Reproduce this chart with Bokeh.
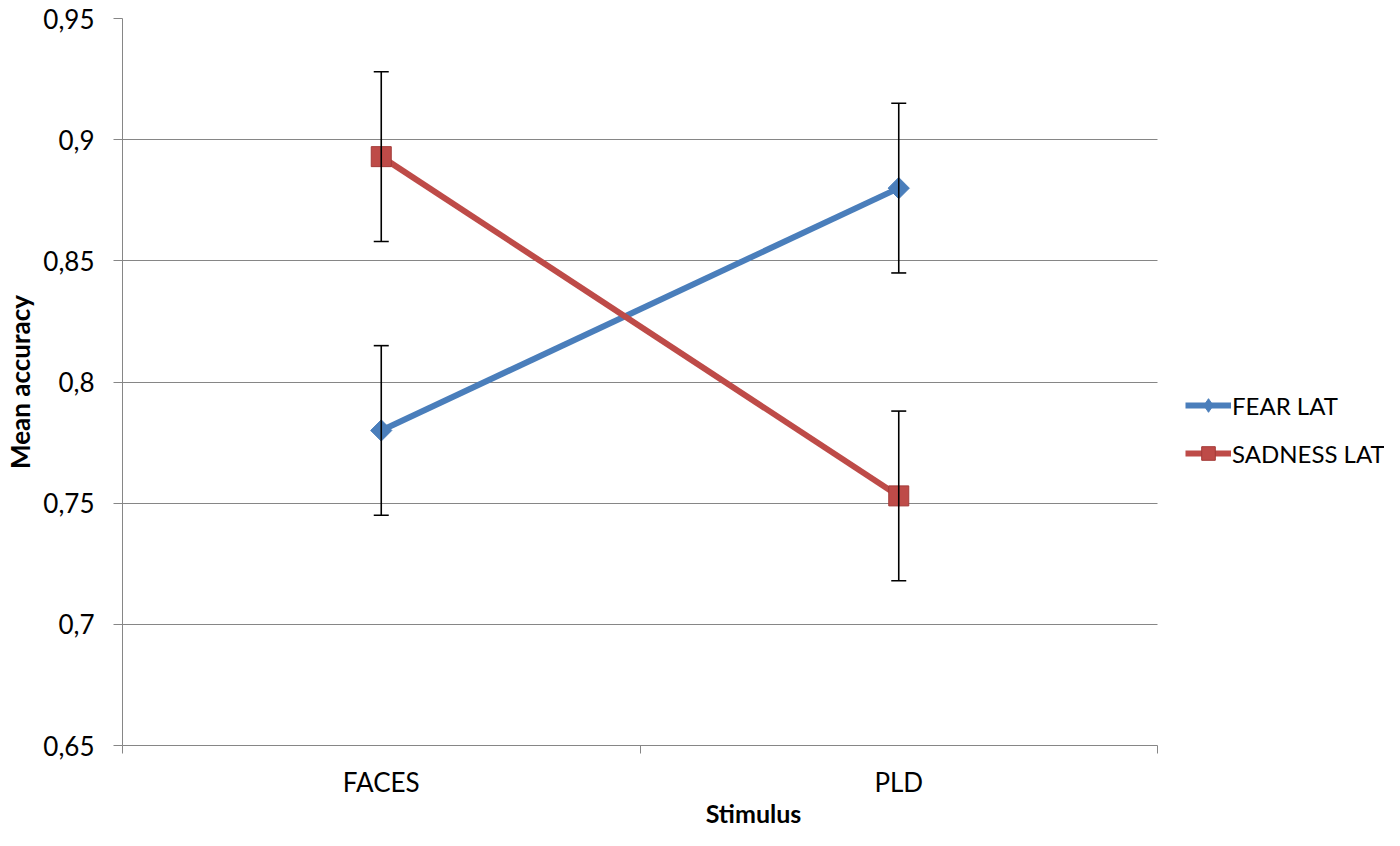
from bokeh.plotting import figure
from bokeh.models import (Range1d, FixedTicker, Whisker, TeeHead, ColumnDataSource,
                          Legend, LegendItem)
from bokeh.embed import file_html
from bokeh.resources import INLINE

categories = ["FACES", "PLD"]
fear_lat = [0.780, 0.880]
fear_err = [0.035, 0.035]
sadness_lat = [0.893, 0.753]
sadness_err = [0.035, 0.035]
y_ticks = [0.65, 0.70, 0.75, 0.80, 0.85, 0.90, 0.95]

FONT = "Lato"
GRAY = "#868686"
BLUE = "#4a7ebb"
RED = "#be4b48"

# layout (pixels)
LEFT, TOP, BOTTOM = 122, 18, 85
PLOT_W = 1035          # width of the category area
FRAME_W = 1262         # frame incl. room for the legend on the right
FRAME_H = 727

n = len(categories)
xpos = [i + 0.5 for i in range(n)]
x_end = n * FRAME_W / PLOT_W

p = figure(frame_width=FRAME_W, frame_height=FRAME_H, output_backend="svg", toolbar_location=None,
           x_range=Range1d(0, x_end), y_range=Range1d(y_ticks[0], y_ticks[-1]),
           min_border_left=LEFT, min_border_right=0, min_border_top=TOP, min_border_bottom=BOTTOM)
p.outline_line_color = None
p.background_fill_color = "white"
p.border_fill_color = "white"

# grids
p.xgrid.grid_line_color = None
p.ygrid.grid_line_color = GRAY
p.ygrid.grid_line_width = 1
p.ygrid.ticker = FixedTicker(ticks=y_ticks)
p.ygrid.cross_bounds = (0, n)

# y axis
p.yaxis.ticker = FixedTicker(ticks=y_ticks, minor_ticks=[])
p.yaxis.major_label_overrides = {t: ("%g" % t).replace(".", ",") for t in y_ticks}
p.yaxis.axis_line_color = GRAY
p.yaxis.major_tick_line_color = GRAY
p.yaxis.major_tick_out = 9
p.yaxis.major_tick_in = 0
p.yaxis.minor_tick_line_color = None
p.yaxis.major_label_standoff = 19
p.yaxis.major_label_text_font = FONT
p.yaxis.major_label_text_font_size = "26px"
p.yaxis.major_label_text_color = "black"
p.yaxis.axis_label = "Mean accuracy"
p.yaxis.axis_label_text_font = FONT
p.yaxis.axis_label_text_font_size = "26px"
p.yaxis.axis_label_text_font_style = "bold"
p.yaxis.axis_label_text_color = "black"
p.yaxis.axis_label_standoff = 4

# x axis
p.xaxis.bounds = (0, n)
p.xaxis.ticker = FixedTicker(ticks=xpos, minor_ticks=list(range(n + 1)))
p.xaxis.major_label_overrides = {x: c for x, c in zip(xpos, categories)}
p.xaxis.axis_line_color = GRAY
p.xaxis.major_tick_line_color = None
p.xaxis.major_tick_out = 0
p.xaxis.major_tick_in = 0
p.xaxis.minor_tick_line_color = GRAY
p.xaxis.minor_tick_out = 8
p.xaxis.minor_tick_in = 0
p.xaxis.major_label_standoff = 12
p.xaxis.major_label_text_font = FONT
p.xaxis.major_label_text_font_size = "26px"
p.xaxis.major_label_text_color = "black"
p.xaxis.axis_label = "Stimulus"
p.xaxis.axis_label_text_font = FONT
p.xaxis.axis_label_text_font_size = "25px"
p.xaxis.axis_label_text_font_style = "bold"
p.xaxis.axis_label_text_color = "black"
p.xaxis.axis_label_standoff = -3

fear_src = ColumnDataSource(dict(x=xpos, y=fear_lat,
                                 lower=[v - e for v, e in zip(fear_lat, fear_err)],
                                 upper=[v + e for v, e in zip(fear_lat, fear_err)]))
sad_src = ColumnDataSource(dict(x=xpos, y=sadness_lat,
                                lower=[v - e for v, e in zip(sadness_lat, sadness_err)],
                                upper=[v + e for v, e in zip(sadness_lat, sadness_err)]))

for src in (fear_src, sad_src):
    w = Whisker(source=src, base="x", upper="upper", lower="lower", dimension="height",
                line_color="black", line_width=1.6,
                upper_head=TeeHead(size=15, line_color="black", line_width=1.6),
                lower_head=TeeHead(size=15, line_color="black", line_width=1.6),
                level="glyph")
    p.add_layout(w)

fl = p.line("x", "y", source=fear_src, line_color=BLUE, line_width=6)
# diamond marker (shown in legend), covered by the rotated square on the plot
fd = p.scatter("x", "y", source=fear_src, marker="diamond", size=18,
               fill_color=BLUE, line_color=BLUE)
fm = p.scatter("x", "y", source=fear_src, marker="square", angle=0.785398, size=15,
               fill_color=BLUE, line_color=BLUE)
sl = p.line("x", "y", source=sad_src, line_color=RED, line_width=6)
sm = p.scatter("x", "y", source=sad_src, marker="square", size=20,
               fill_color=RED, line_color="#a33b38")

legend = Legend(items=[LegendItem(label="FEAR LAT", renderers=[fl, fd]),
                       LegendItem(label="SADNESS LAT", renderers=[sl, sm])],
                location=(1063, 275), orientation="vertical",
                glyph_width=46, glyph_height=34, label_height=30, spacing=14,
                label_standoff=1, padding=0, margin=0,
                border_line_color=None, background_fill_alpha=0,
                label_text_font=FONT, label_text_font_size="24px", label_text_color="black")
p.add_layout(legend, "center")

open("out.html", "w").write(file_html(p, INLINE))
